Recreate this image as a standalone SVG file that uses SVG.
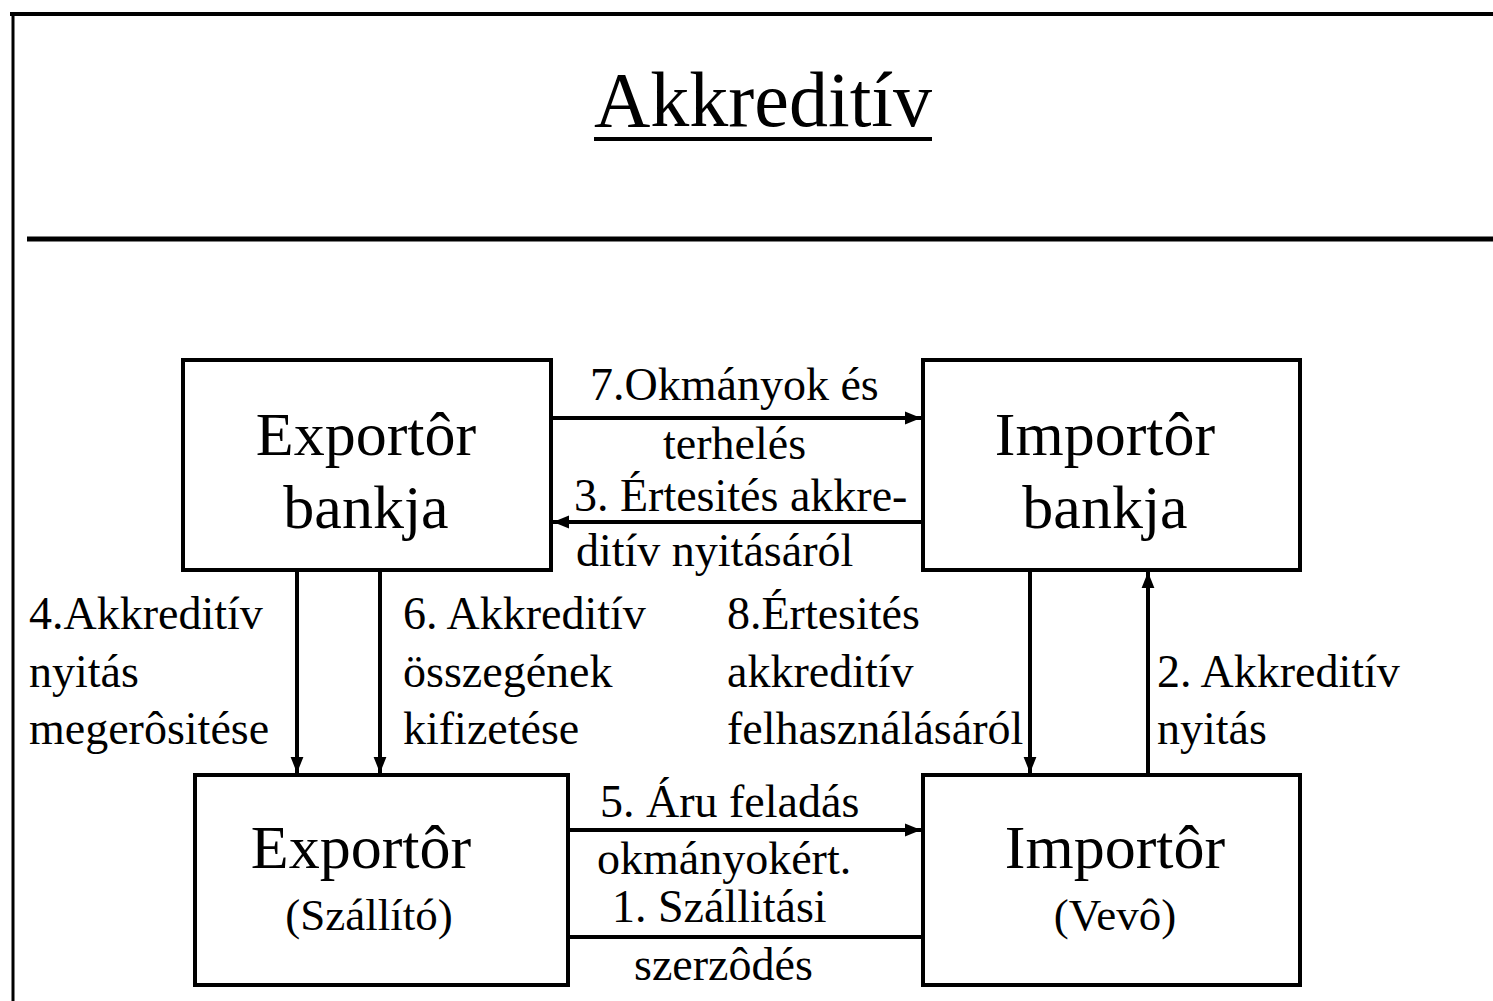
<svg xmlns="http://www.w3.org/2000/svg" width="1493" height="1001" viewBox="0 0 1493 1001">
<defs>
<marker id="ah" viewBox="0 0 10 10" refX="10" refY="5" markerWidth="4" markerHeight="4" markerUnits="strokeWidth" orient="auto">
<path d="M0,1 L10,5 L0,9 z" fill="#000"/>
</marker>
<style>
.box{fill:#fff;stroke:#000;stroke-width:4}
.nt{font-family:"Liberation Serif","Times New Roman",serif;font-size:62px;fill:#000;text-anchor:middle}
.ns{font-family:"Liberation Serif","Times New Roman",serif;font-size:45px;fill:#000;text-anchor:middle}
.lb{font-family:"Liberation Serif","Times New Roman",serif;font-size:46px;fill:#000}
.cn{stroke:#000;stroke-width:4;fill:none}
.title{font-family:"Liberation Serif","Times New Roman",serif;font-size:78px;fill:#000;text-anchor:middle}
</style>
</defs>
<rect width="1493" height="1001" fill="#fff"/>
<g id="frame">
<line x1="10" y1="14" x2="1493" y2="14" stroke="#000" stroke-width="4"/>
<line x1="13" y1="12" x2="13" y2="1001" stroke="#000" stroke-width="3"/>
<line x1="27" y1="239" x2="1493" y2="239" stroke="#000" stroke-width="5"/>
</g>
<g id="title">
<text class="title" x="763" y="126">Akkreditív</text>
<line x1="594" y1="139" x2="932" y2="139" stroke="#000" stroke-width="4"/>
</g>
<g id="connectors">
<line class="cn" x1="551" y1="418" x2="921" y2="418" marker-end="url(#ah)"/>
<line class="cn" x1="923" y1="522" x2="553" y2="522" marker-end="url(#ah)"/>
<line class="cn" x1="297" y1="570" x2="297" y2="773" marker-end="url(#ah)"/>
<line class="cn" x1="380" y1="570" x2="380" y2="773" marker-end="url(#ah)"/>
<line class="cn" x1="1030" y1="570" x2="1030" y2="773" marker-end="url(#ah)"/>
<line class="cn" x1="1148" y1="775" x2="1148" y2="572" marker-end="url(#ah)"/>
<line class="cn" x1="568" y1="830" x2="921" y2="830" marker-end="url(#ah)"/>
<line class="cn" x1="568" y1="937" x2="923" y2="937"/>
<text class="lb" x="590" y="400">7.Okmányok és</text>
<text class="lb" x="663" y="459">terhelés</text>
<text class="lb" x="574" y="511">3. Értesités akkre-</text>
<text class="lb" x="576" y="566">ditív nyitásáról</text>
<text class="lb" x="29" y="629">4.Akkreditív</text>
<text class="lb" x="29" y="687">nyitás</text>
<text class="lb" x="29" y="744">megerôsitése</text>
<text class="lb" x="403" y="629">6. Akkreditív</text>
<text class="lb" x="403" y="687">összegének</text>
<text class="lb" x="403" y="744">kifizetése</text>
<text class="lb" x="727" y="629">8.Értesités</text>
<text class="lb" x="727" y="687">akkreditív</text>
<text class="lb" x="727" y="744">felhasználásáról</text>
<text class="lb" x="1157" y="687">2. Akkreditív</text>
<text class="lb" x="1157" y="744">nyitás</text>
<text class="lb" x="600" y="817">5. Áru feladás</text>
<text class="lb" x="597" y="874">okmányokért.</text>
<text class="lb" x="612" y="922">1. Szállitási</text>
<text class="lb" x="634" y="980">szerzôdés</text>
</g>
<g id="exporter-bank">
<rect class="box" x="183" y="360" width="368" height="210"/>
<text class="nt" x="366" y="455">Exportôr</text>
<text class="nt" x="366" y="528">bankja</text>
</g>
<g id="importer-bank">
<rect class="box" x="923" y="360" width="377" height="210"/>
<text class="nt" x="1105" y="455">Importôr</text>
<text class="nt" x="1105" y="528">bankja</text>
</g>
<g id="exporter">
<rect class="box" x="195" y="775" width="373" height="210"/>
<text class="nt" x="361" y="868">Exportôr</text>
<text class="ns" x="369" y="930">(Szállító)</text>
</g>
<g id="importer">
<rect class="box" x="923" y="775" width="377" height="210"/>
<text class="nt" x="1115" y="868">Importôr</text>
<text class="ns" x="1115" y="930">(Vevô)</text>
</g>
</svg>
